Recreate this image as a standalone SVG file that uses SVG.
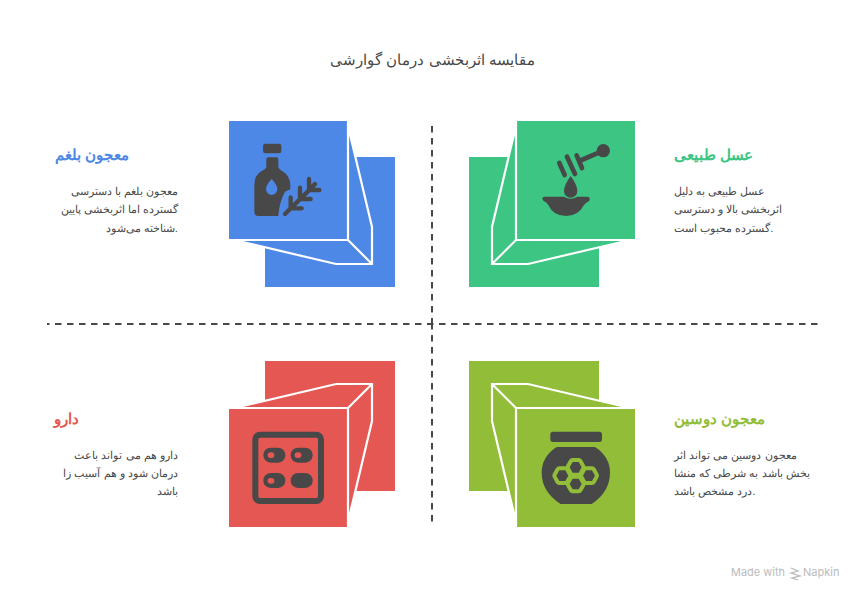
<svg xmlns="http://www.w3.org/2000/svg" width="864" height="600" viewBox="0 0 864 600">
<style>
text{font-family:"Liberation Sans",sans-serif}
.title{font-size:15.300px;fill:#484848}
.h{font-size:15.300px;font-weight:700}
.b{font-size:11.400px;fill:#484848}
.e{text-anchor:end}
.w{fill:none;stroke:#fff;stroke-width:2.200}
.d{fill:#484848}
.l{fill:none;stroke:#484848;stroke-linecap:round}
.dash{fill:none;stroke:#484848;stroke-width:2;stroke-dasharray:6.500 5.500}
.hx{stroke:#92BD39;stroke-width:24;stroke-linejoin:round;fill:#92BD39}
.f{fill:#bbb;font-size:11px;font-family:"Inter","Liberation Sans",sans-serif}
</style>
<rect width="864" height="600" fill="#fff"/>
<text id="title" class="title" x="432.500" y="65" text-anchor="middle">مقایسه اثربخشی درمان گوارشی</text>
<g id="connectors">
<path class="dash" d="M432 126V324"/>
<path class="dash" d="M432 323V522"/>
<path class="dash" style="stroke-dashoffset:4" d="M47 324H818"/>
</g>
<g id="node-blue">
<rect x="265" y="157" width="130" height="130" fill="#4E88E7"/>
<path fill="#4E88E7" d="M348 128L372 227V264H336L236 240Z"/>
<rect x="229" y="121" width="118" height="118" fill="#4E88E7"/>
<path class="w" d="M348 122V240H229M348 240L372 264M348.500 128L372 227V264H336L236 240.500"/>
<g transform="translate(220 110) scale(.3333)">
<rect class="d" x="129" y="101" width="55" height="29" rx="7"/>
<path class="d" fill-rule="evenodd" d="M145 142H169Q175 142 175 148V170Q176 177 190 185Q210 198 211 225V238L195 245Q178 275 175 318H115Q103 318 103 305V225Q103 195 125 183Q139 176 139 170V148Q139 142 145 142ZM155 207Q138 225 138 238A17 17 0 0 0 172 238Q172 225 155 207Z"/>
<path class="l" stroke-width="13" d="M195 312L272 236M212 262V295H245M240 233V267H272M267 207V240H298M285 222L272 236"/>
</g>
<text class="h" x="55" y="160" fill="#4E88E7">معجون بلغم</text>
<text class="b e" x="178" y="195">معجون بلغم با دسترسی</text>
<text class="b e" x="178" y="213">گسترده اما اثربخشی پایین</text>
<text class="b e" x="178" y="232">شناخته می‌شود.</text>
</g>
<g id="node-green">
<rect x="469" y="157" width="130" height="130" fill="#3CC583"/>
<path fill="#3CC583" d="M516 128L492 227V264H528L628 240Z"/>
<rect x="517" y="121" width="118" height="118" fill="#3CC583"/>
<path class="w" d="M516 122V240H635M516 240L492 264M515.500 128L492 227V264H528L628 240.500"/>
<g transform="translate(460 110) scale(.3333)">
<circle class="d" cx="430" cy="122" r="20"/>
<path class="l" stroke-width="14" d="M430 122L365 150M350 136L366 174M321 140L345 192M298 159L314 195"/>
<path class="d" d="M332 198Q312 225 312 243A20 20 0 0 0 352 243Q352 225 332 198Z"/>
<path class="d" d="M253 260H312Q332 272 352 260H383Q392 262 388 272Q378 278 372 285Q355 318 318 318Q280 318 265 285Q258 275 250 272Q243 262 253 260Z"/>
</g>
<text class="h" x="674" y="160" fill="#3CC583">عسل طبیعی</text>
<text class="b" x="674" y="195">عسل طبیعی به دلیل</text>
<text class="b" x="674" y="213">اثربخشی بالا و دسترسی</text>
<text class="b" x="674" y="232">گسترده محبوب است.</text>
</g>
<g id="node-red">
<rect x="265" y="361" width="130" height="130" fill="#E55753"/>
<path fill="#E55753" d="M348 520L372 421V384H336L236 408Z"/>
<rect x="229" y="409" width="118" height="118" fill="#E55753"/>
<path class="w" d="M348 526V408H229M348 408L372 384M348.500 520L372 421V384H336L236 407.500"/>
<g transform="translate(220 350) scale(.3333)">
<rect x="106" y="254" width="197" height="199" rx="14" fill="none" stroke="#484848" stroke-width="18"/>
<rect class="d" x="130" y="293" width="66" height="45" rx="22"/>
<rect class="d" x="212" y="293" width="66" height="45" rx="22"/>
<rect class="d" x="130" y="369" width="66" height="45" rx="22"/>
<rect class="d" x="212" y="369" width="66" height="45" rx="22"/>
<rect x="143" y="307" width="20" height="17" rx="8" fill="#E55753"/>
<rect x="224" y="307" width="20" height="17" rx="8" fill="#E55753"/>
<rect x="143" y="384" width="20" height="17" rx="8" fill="#E55753"/>
</g>
<text class="h" x="54" y="424" fill="#E55753">دارو</text>
<text class="b e" x="178" y="459">دارو هم می تواند باعث</text>
<text class="b e" x="178" y="477">درمان شود و هم آسیب زا</text>
<text class="b e" x="178" y="495">باشد</text>
</g>
<g id="node-olive">
<rect x="469" y="361" width="130" height="130" fill="#92BD39"/>
<path fill="#92BD39" d="M516 520L492 421V384H528L628 408Z"/>
<rect x="517" y="409" width="118" height="118" fill="#92BD39"/>
<path class="w" d="M516 526V408H635M516 408L492 384M515.500 520L492 421V384H528L628 407.500"/>
<g transform="translate(460 350) scale(.3333)">
<rect class="d" x="271" y="245" width="155" height="31" rx="8"/>
<path class="d" d="M290 291H405Q450 320 450 368Q450 425 395 462H302Q245 425 245 368Q245 320 290 291Z"/>
<path class="hx" d="M329 352L338 336H356L365 352L356 368H338ZM289 377L298 361H316L325 377L316 393H298ZM369 377L378 361H396L405 377L396 393H378ZM329 402L338 386H356L365 402L356 418H338Z"/>
<path class="d" d="M329 352L338 336H356L365 352L356 368H338ZM289 377L298 361H316L325 377L316 393H298ZM369 377L378 361H396L405 377L396 393H378ZM329 402L338 386H356L365 402L356 418H338Z"/>
</g>
<text class="h" x="674" y="424" fill="#92BD39">معجون دوسین</text>
<text class="b" x="674" y="459">معجون دوسین می تواند اثر</text>
<text class="b" x="674" y="477">بخش باشد به شرطی که منشا</text>
<text class="b" x="674" y="495">درد مشخص باشد.</text>
</g>
<g id="watermark">
<text class="f" x="731" y="576">Made with</text>
<path fill="none" stroke="#bbb" stroke-width="1.300" d="M791 568L798 571L791 573L800 576L792 578L798 580"/>
<text class="f" x="803" y="576">Napkin</text>
</g>
</svg>
